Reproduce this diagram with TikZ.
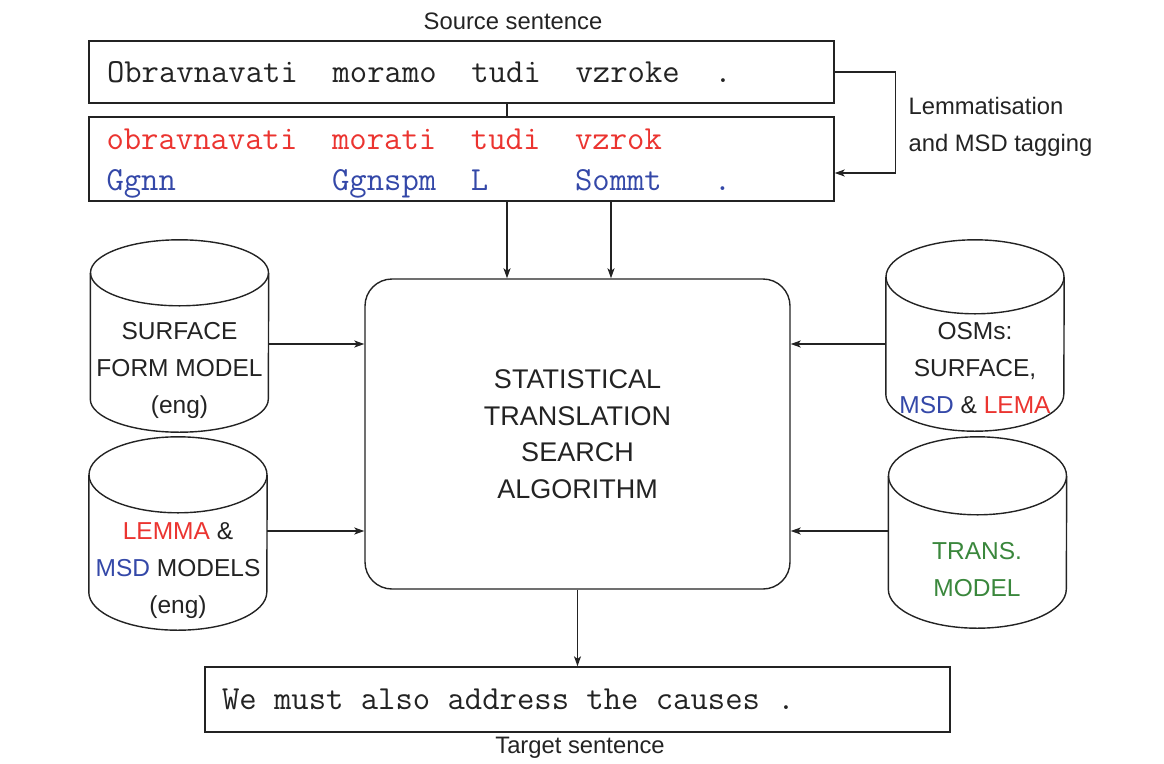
\documentclass[tikz,border=0pt]{standalone}
\usepackage{fontspec}
\setmainfont{Liberation Sans}
\setmonofont{Latin Modern Mono}
\usepackage{xcolor}
\definecolor{ink}{RGB}{35,35,35}
\definecolor{lemred}{RGB}{235,52,48}
\definecolor{msdblue}{RGB}{52,72,168}
\definecolor{trgreen}{RGB}{58,135,60}
\usetikzlibrary{arrows.meta, positioning, calc}
\newcommand{\labelfont}{\fontsize{24.5}{37}\selectfont}
\newcommand{\captionfont}{\fontsize{23.8}{37.5}\selectfont}
\newcommand{\corefont}{\fontsize{27}{36.5}\selectfont}
\newcommand{\sentfont}{\fontsize{33.7}{41}\selectfont\ttfamily}
% blank of n character cells in the typewriter font
\newcommand{\gp}[1]{\hspace*{#1\fontcharwd\font`x}}
\tikzset{
  flow/.style={-{Stealth[length=10pt, width=7pt, inset=2.5pt]}, line width=1.3pt, draw=ink},
  link/.style={line width=1.3pt, draw=ink},
  sentbox/.style={draw=ink, line width=1.4pt, rectangle, inner xsep=18pt, text width=709pt,
    align=left, font=\sentfont, text=ink},
  sentline/.style={anchor=west, inner sep=0pt, align=left, font=\sentfont, text=ink},
  corebox/.style={draw=ink, line width=1.4pt, rounded corners=27pt, minimum width=425pt,
    minimum height=310pt, align=center, font=\corefont, text=ink},
  cylbox/.style={draw=none, rectangle, inner sep=0pt, minimum width=178pt},
  cylline/.style={draw=ink, line width=1.4pt},
  cyltext/.style={align=center, font=\labelfont, text=ink},
  caption/.style={font=\captionfont, text=ink}
}
\begin{document}
\begin{tikzpicture}[x=1pt, y=1pt]
  \useasboundingbox (0,0) rectangle (1164,-763);
  % Sentences
  \node[caption] (srclabel) at (513,-21) {Source sentence};
  \node[sentbox, minimum height=62pt] (src) at (461.5,-72)
    {Obravnavati\gp2moramo\gp2tudi\gp2vzroke\gp2.};
  \node[draw=ink, line width=1.4pt, minimum width=745pt, minimum height=84pt] (tag) at (461.5,-159) {};
  \node[sentline] (tagtext) at ([xshift=18pt, yshift=-4.5pt]tag.west)
    {\textcolor{lemred}{obravnavati\gp2morati\gp2tudi\gp2vzrok}\\
     \textcolor{msdblue}{Ggnn\gp9Ggnspm\gp2L\gp5Sommt\gp3.}};
  \node[caption, anchor=west, align=left] (tagginglabel) at (905,-127) {Lemmatisation\\and MSD tagging};
  % Search algorithm
  \node[corebox] (core) at (577.5,-434) {STATISTICAL\\TRANSLATION\\SEARCH\\ALGORITHM};
  % Models
  \node[cylbox, minimum height=192pt] (sfm) at (179.5,-336) {};
  \node[cylbox, minimum height=193pt] (lmm) at (178,-533.5) {};
  \node[cylbox, minimum height=191pt] (osm) at (975,-335.5) {};
  \node[cylbox, minimum height=191pt] (trm) at (977.5,-532.5) {};
  \foreach \c/\ry in {sfm/33, lmm/38, osm/37, trm/39} {
    \draw[cylline] ($(\c.north west)+(0,-\ry)$) -- ($(\c.south west)+(0,\ry)$)
      arc[start angle=180, end angle=360, x radius=89, y radius=\ry] -- ($(\c.north east)+(0,-\ry)$);
    \draw[cylline] ($(\c.north)+(0,-\ry)$) ellipse[x radius=89, y radius=\ry];
  }
  \node[cyltext] (sfmtext) at (179.5,-370) {SURFACE\\FORM MODEL\\(eng)};
  \node[cyltext] (lmmtext) at (178,-571) {\textcolor{lemred}{LEMMA} \&\\\textcolor{msdblue}{MSD} MODELS\\(eng)};
  \node[cyltext] (osmtext) at (975,-368) {OSMs:\\SURFACE,\\\textcolor{msdblue}{MSD} \& \textcolor{lemred}{LEMA}};
  \node[cyltext, text=trgreen] (trmtext) at (977,-570) {TRANS.\\MODEL};
  % Output
  \node[sentbox, minimum height=65pt, inner xsep=17pt, text width=711pt] (tgt) at (577.5,-699.5)
    {We\gp1must\gp1also\gp1address\gp1the\gp1causes\gp1.};
  \node[caption] (tgtlabel) at (580,-748) {Target sentence};
  % Connectors
  \draw[link] ([xshift=45.5pt]src.south) -- ([xshift=45.5pt]tag.north);
  \draw[flow] (src.east) -- ++(61pt,0) |- ([yshift=-14pt]tag.east);
  \draw[flow] ([xshift=45.5pt]tag.south) -- ([xshift=45.5pt]tag.south |- core.north);
  \draw[flow] ([xshift=149.5pt]tag.south) -- ([xshift=149.5pt]tag.south |- core.north);
  \draw[flow] ([yshift=-8pt]sfm.east) -- ([yshift=-8pt]sfm.east -| core.west);
  \draw[flow] ([yshift=2.5pt]lmm.east) -- ([yshift=2.5pt]lmm.east -| core.west);
  \draw[flow] ([yshift=-8.5pt]osm.west) -- ([yshift=-8.5pt]osm.west -| core.east);
  \draw[flow] ([yshift=1.5pt]trm.west) -- ([yshift=1.5pt]trm.west -| core.east);
  \draw[flow] (core.south) -- (tgt.north);
\end{tikzpicture}
\end{document}
